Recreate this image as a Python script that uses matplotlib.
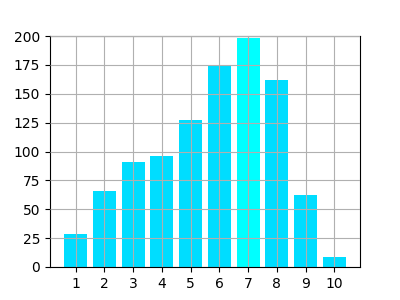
import matplotlib
matplotlib.use('Agg')
import matplotlib.pyplot as plt

labels = [1, 2, 3, 4, 5, 6, 7, 8, 9, 10]
values = [29, 66, 91, 96, 127, 174, 198, 162, 62, 9]
colors = ['#00ddff'] * 10
colors[values.index(max(values))] = '#00ffff'

fig, ax = plt.subplots(figsize=(4, 3), dpi=100)
ax.bar(labels, values, color=colors)
ax.set_xticks(labels)
ax.set_ylim(0, 200)
ax.set_axisbelow(False)
ax.grid(True)
fig.savefig('out.png')
